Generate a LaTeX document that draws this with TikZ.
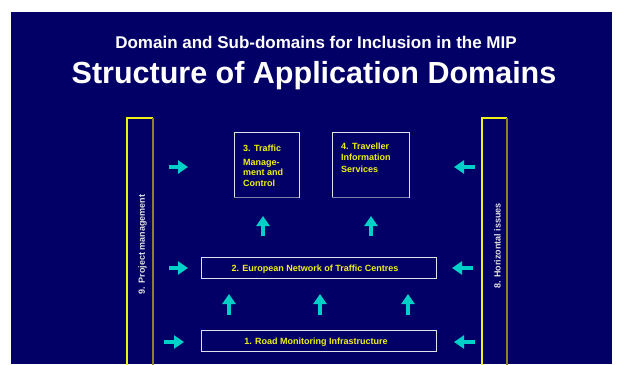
\documentclass[tikz,border=0pt]{standalone}
\usepackage{fontspec}
\setmainfont{Liberation Sans}
\usetikzlibrary{arrows.meta}
\definecolor{navy}{RGB}{2,0,102}
\definecolor{turq}{RGB}{0,208,200}
\definecolor{lab}{RGB}{240,240,20}
\definecolor{olive}{RGB}{140,130,40}
\definecolor{frame}{RGB}{225,225,235}
\definecolor{frameshade}{RGB}{130,130,170}
\definecolor{side}{RGB}{225,225,225}
\tikzset{
  flow/.style={turq, line width=4pt, -{Triangle[length=10pt,width=13pt]}},
  dombox/.style={draw=frame, line width=0.9pt, fill=none},
  boxtext/.style={inner sep=0pt, text=lab, font=\fontsize{9}{10.5}\selectfont\bfseries, align=left},
  sidetext/.style={inner sep=0pt, text=side, font=\fontsize{9}{10.5}\selectfont\bfseries, rotate=90},
}
\begin{document}
\begin{tikzpicture}[x=1pt,y=-1pt]
\useasboundingbox (0,0) rectangle (617,364);
\fill[white] (0,0) rectangle (617,364);
\fill[navy] (11,12) rectangle (612,364);

% titles
\node[anchor=base, text=white, font=\fontsize{17}{20}\selectfont\bfseries] (sub) at (316,48) {Domain and Sub-domains for Inclusion in the MIP};
\node[anchor=base, text=white, font=\fontsize{30.5}{34}\selectfont\bfseries] (title) at (314,83) {Structure of Application Domains};

% side columns
\draw[lab, line width=1.2pt] (127,366) -- (127,118) -- (153,118);
\draw[olive, line width=1.2pt] (153,118) -- (153,366);
\draw[lab, line width=1.2pt] (482,366) -- (482,118) -- (507,118);
\draw[olive, line width=1.2pt] (507,118) -- (507,366);
\node[sidetext] (pm) at (142.5,244.5) {9. Project management};
\node[sidetext] (hz) at (497.5,246) {8. Horizontal issues};

% domain boxes
\draw[dombox] (234,132) rectangle (299,197);
\draw[frameshade, line width=1pt] (234,197) -- (299,197);
\node[boxtext, anchor=north west] (d3) at (243,144.4) {3. Traffic\\[3.5pt]Manage-\\ment and\\Control};
\draw[dombox] (332,132) rectangle (409,197);
\draw[frameshade, line width=1pt] (332,197) -- (409,197);
\node[boxtext, anchor=north west, font=\fontsize{9}{11.5}\selectfont\bfseries] (d4) at (341,142.4) {4. Traveller\\Information\\Services};

\draw[dombox] (201,257) rectangle (436,278);
\node[boxtext, anchor=base] (d2) at (315,271) {2. European Network of Traffic Centres};
\draw[dombox] (201,330) rectangle (436,351);
\node[boxtext, anchor=base] (d1) at (316,344.5) {1. Road Monitoring Infrastructure};

% arrow end points
\coordinate (l1s) at (169,167); \coordinate (l1e) at (188,167);
\coordinate (l2s) at (169,268); \coordinate (l2e) at (188,268);
\coordinate (l3s) at (164,342); \coordinate (l3e) at (184,342);
\coordinate (r1s) at (475,167); \coordinate (r1e) at (454,167);
\coordinate (r2s) at (473,268); \coordinate (r2e) at (452,268);
\coordinate (r3s) at (475,342); \coordinate (r3e) at (454,342);
\coordinate (u1s) at (263,236); \coordinate (u1e) at (263,216);
\coordinate (u2s) at (371,236); \coordinate (u2e) at (371,216);
\coordinate (u3s) at (229,315); \coordinate (u3e) at (229,294);
\coordinate (u4s) at (320,315); \coordinate (u4e) at (320,294);
\coordinate (u5s) at (408,315); \coordinate (u5e) at (408,294);

\foreach \a in {l1,l2,l3,r1,r2,r3,u1,u2,u3,u4,u5}
  \draw[flow] (\a s) -- (\a e);
\end{tikzpicture}
\end{document}
